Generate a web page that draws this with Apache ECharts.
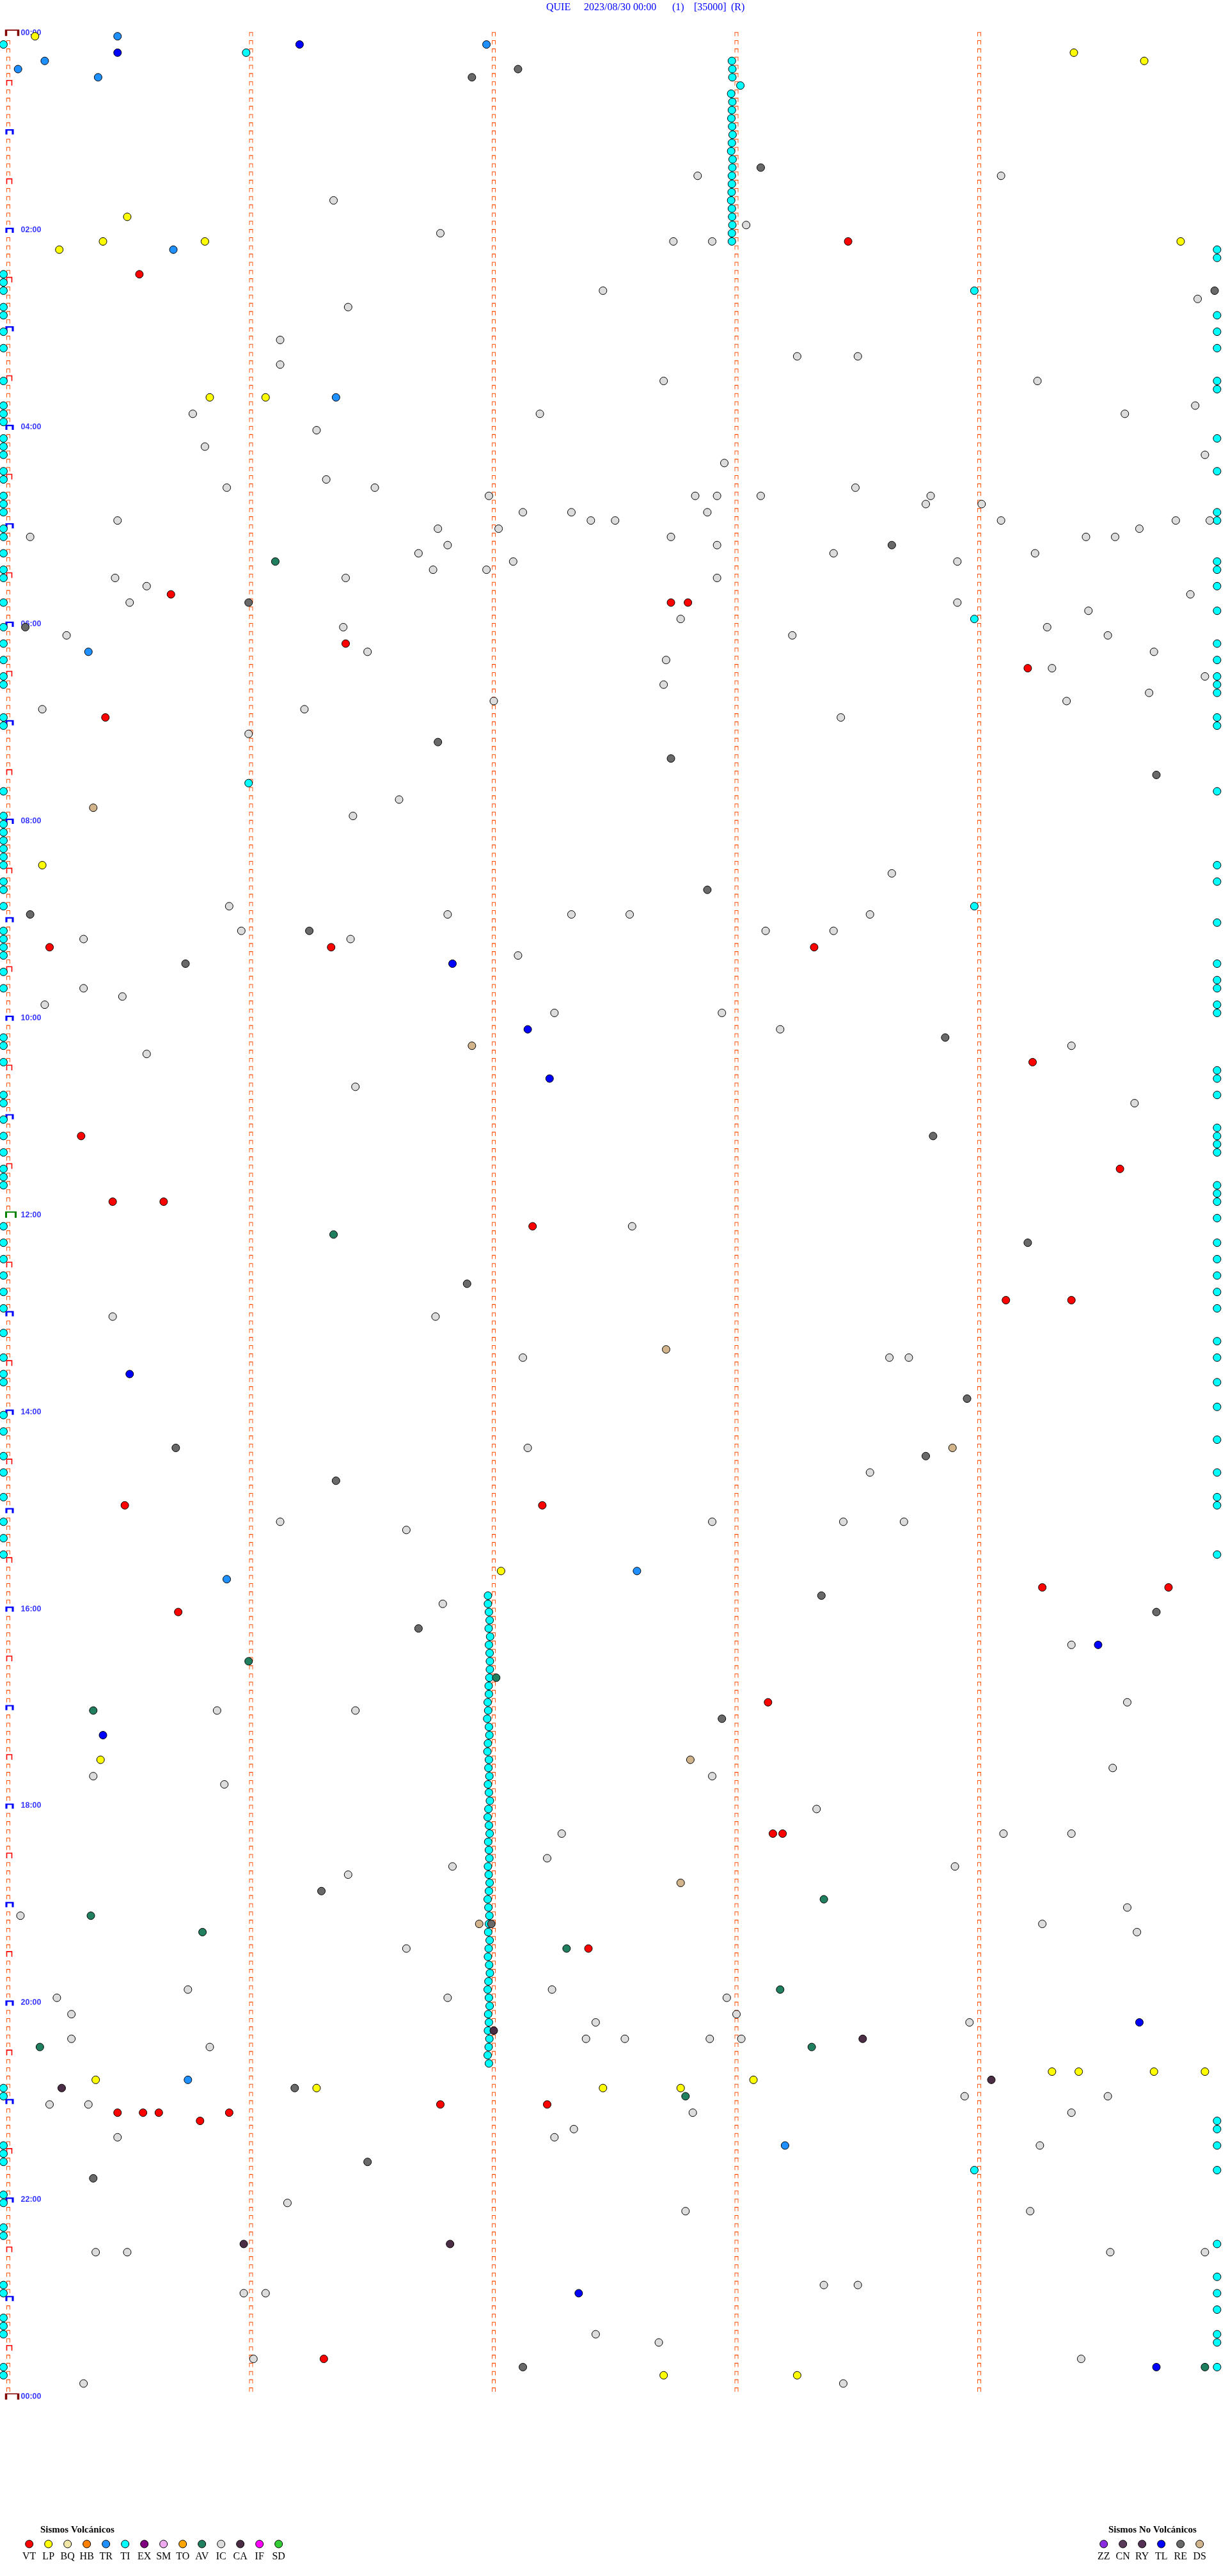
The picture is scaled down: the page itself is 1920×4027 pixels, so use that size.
<!DOCTYPE html>
<html><head><meta charset="utf-8">
<script src="https://cdn.jsdelivr.net/npm/echarts@6/dist/echarts.min.js"></script>
<style>html,body{margin:0;padding:0;background:#fff}#c{width:1920px;height:4027px}</style>
</head><body><div id="c"></div>
<script>
// Each event: [row = 5-minute window index since 00:00, offset within the window in minutes]
const VT = [[25,3.46],[29,0.54],[68,0.67],[69,2.73],[69,2.80],[74,1.39],[77,4.20],[83,0.40],[111,0.17],[111,1.33],[111,3.32],[125,4.22],[134,0.30],[138,4.58],[142,0.43],[142,0.64],[145,2.16],[154,4.11],[154,4.38],[179,0.48],[179,2.20],[189,4.26],[189,4.78],[192,0.70],[203,3.13],[219,3.15],[219,3.19],[233,2.39],[252,1.78],[252,2.22],[253,0.45],[253,0.555],[253,0.62],[253,0.91],[254,0.79],[283,1.30]];
const LP = [[0,0.11],[2,4.39],[3,4.68],[22,0.49],[25,0.39],[25,0.81],[26,0.21],[25,4.83],[44,0.83],[44,1.06],[101,0.14],[187,2.03],[210,0.38],[248,4.30],[248,4.41],[248,4.72],[248,4.93],[249,0.36],[249,3.07],[250,1.27],[250,2.45],[250,2.77],[285,2.70],[285,3.25]];
const TR = [[0,0.45],[1,1.97],[3,0.15],[4,0.04],[5,0.37],[26,0.68],[44,1.35],[75,0.33],[187,2.59],[188,0.90],[249,0.74],[257,3.20]];
const TI = [
 [1,-0.02],[2,0.98],
 [3,2.981],[4,2.983],[5,2.983],[6,3.016],[7,2.978],[8,2.983],[9,2.981],[10,2.979],[11,2.982],[12,2.984],[13,2.981],[14,2.978],[15,2.984],[16,2.983],[17,2.981],[18,2.981],[19,2.98],[20,2.978],[21,2.981],[22,2.982],[23,2.983],[24,2.981],[25,2.981],
 [31,3.98],[71,3.98],[91,0.99],[106,3.98],[260,3.98],
 [29,-0.02],[30,-0.02],[31,-0.02],[33,-0.02],[34,-0.02],[36,-0.02],[38,-0.02],[42,-0.02],[45,-0.02],[46,-0.02],[47,-0.02],[49,-0.02],[50,-0.02],[51,-0.02],[53,-0.02],[54,-0.02],[56,-0.02],[57,-0.02],[58,-0.02],[60,-0.02],[61,-0.02],[63,-0.02],[65,-0.02],[66,-0.02],[69,-0.02],[72,-0.02],[74,-0.02],[76,-0.02],[78,-0.02],[79,-0.02],[83,-0.02],[84,-0.02],[92,-0.02],[95,-0.02],[96,-0.02],[97,-0.02],[98,-0.02],[99,-0.02],[100,-0.02],[101,-0.02],[103,-0.02],[104,-0.02],[106,-0.02],[109,-0.02],[110,-0.02],[111,-0.02],[112,-0.02],[114,-0.02],[116,-0.02],[122,-0.02],[123,-0.02],[125,-0.02],[129,-0.02],[130,-0.02],[132,-0.02],[134,-0.02],[136,-0.02],[138,-0.02],[139,-0.02],[140,-0.02],[145,-0.02],[147,-0.02],[149,-0.02],[151,-0.02],[153,-0.02],[155,-0.02],[158,-0.02],[161,-0.02],[163,-0.02],[164,-0.02],[168,-0.02],[170,-0.02],[173,-0.02],[175,-0.02],[178,-0.02],[181,-0.02],[183,-0.02],[185,-0.02],[250,-0.02],[251,-0.02],[257,-0.02],[258,-0.02],[259,-0.02],[263,-0.02],[264,-0.02],[267,-0.02],[268,-0.02],[274,-0.02],[275,-0.02],[278,-0.02],[279,-0.02],[280,-0.02],[284,-0.02],[285,-0.02],
 [26,4.98],[27,4.98],[34,4.98],[36,4.98],[38,4.98],[42,4.98],[43,4.98],[49,4.98],[53,4.98],[58,4.98],[59,4.98],[64,4.98],[65,4.98],[67,4.98],[70,4.98],[74,4.98],[76,4.98],[78,4.98],[79,4.98],[80,4.98],[83,4.98],[84,4.98],[92,4.98],[101,4.98],[103,4.98],[108,4.98],[113,4.98],[115,4.98],[116,4.98],[118,4.98],[119,4.98],[126,4.98],[127,4.98],[129,4.98],[133,4.98],[134,4.98],[135,4.98],[136,4.98],[140,4.98],[141,4.98],[142,4.98],[144,4.98],[147,4.98],[149,4.98],[151,4.98],[153,4.98],[155,4.98],[159,4.98],[161,4.98],[164,4.98],[167,4.98],[171,4.98],[175,4.98],[178,4.98],[179,4.98],[185,4.98],[254,4.98],[255,4.98],[257,4.98],[260,4.98],[269,4.98],[273,4.98],[275,4.98],[277,4.98],[280,4.98],[281,4.98],[284,4.98],
 [190,1.976],[191,1.976],[192,1.98],[193,1.983],[194,1.979],[195,1.985],[196,1.98],[197,1.983],[198,1.984],[199,1.984],[200,1.982],[201,1.979],[202,1.98],[203,1.975],[204,1.977],[205,1.973],[206,1.98],[207,1.982],[208,1.976],[209,1.974],[210,1.98],[211,1.978],[212,1.982],[213,1.976],[214,1.98],[215,1.984],[216,1.978],[217,1.975],[218,1.98],[219,1.983],[220,1.977],[221,1.98],[222,1.982],[223,1.976],[224,1.979],[225,1.983],[226,1.98],[227,1.975],[228,1.978],[229,1.982],[230,1.98],[231,1.977],[232,1.983],[233,1.979],[234,1.976],[235,1.981],[236,1.984],[237,1.978],[238,1.975],[239,1.98],[240,1.983],[241,1.977],[242,1.98],[243,1.976],[244,1.982],[245,1.979],[246,1.975],[247,1.98]
];
const AV = [[64,1.10],[146,1.34],[198,0.99],[200,2.01],[204,0.35],[227,3.36],[229,0.34],[231,0.80],[233,2.30],[238,3.18],[245,0.13],[245,3.31],[251,2.79],[284,4.93]];
const IC = [[17,2.84],[17,4.09],[20,1.34],[23,3.04],[24,1.78],[25,2.90],[25,2.74],[31,2.45],[32,4.90],[33,1.40],[37,1.12],[39,3.25],[39,3.50],[40,1.12],[42,2.70],[42,4.24],[45,4.89],[46,0.76],[46,2.19],[46,4.60],[48,1.27],[50,0.81],[51,4.93],[52,2.95],[54,1.31],[55,1.51],[55,0.90],
 [56,1.98],[60,2.02],[58,2.12],[58,2.32],[59,2.40],[59,2.50],[61,2.73],[56,2.83],[58,2.88],[56,2.92],[62,2.92],[56,3.10],[55,3.49],[56,3.80],[57,3.78],[57,4.01],[59,4.09],[61,4.44],[61,4.56],[60,4.66],[59,4.81],[59,4.95],
 [59,0.45],[61,0.09],[60,1.77],[62,1.81],[63,1.69],[65,1.75],[65,1.97],[64,2.08],[63,3.40],[63,4.23],[64,3.91],
 [66,0.44],[67,0.57],[69,0.50],[66,1.39],[66,2.92],[69,3.91],[68,4.87],[70,4.45],
 [71,2.77],[73,0.24],[72,1.38],[75,1.48],[73,3.23],[72,4.28],[73,4.53],[75,4.72],[76,2.71],[77,4.30],[79,2.70],[78,4.93],[81,4.36],[80,4.70],
 [82,0.14],[82,1.22],[81,2.00],[83,3.43],[85,0.99],[93,1.61],[95,1.42],[102,3.64],[106,0.91],[107,1.81],[107,2.32],[107,2.56],[107,3.55],[109,0.96],[109,3.12],[109,3.40],[110,0.31],[110,1.41],[112,2.10],[116,0.31],[117,0.47],[118,0.15],[119,2.94],[119,2.25],[121,3.18],[123,4.38],[124,0.57],[128,1.43],[130,4.64],[145,2.57],[156,0.43],[156,1.76],[161,2.12],[161,3.63],[161,3.71],[172,2.14],[175,3.55],[181,1.12],[181,2.90],[181,3.44],[181,3.69],[182,1.64],[191,1.79],[196,4.38],[203,4.61],[204,0.86],[204,1.43],[211,4.55],[212,0.35],[212,2.90],[213,0.89],[216,3.33],[219,2.28],[219,4.10],[219,4.38],[222,2.22],[223,1.83],[223,3.90],[224,1.40],[228,4.61],[229,0.05],[230,4.26],[231,4.65],[233,1.64],[238,0.74],[239,0.20],[239,1.81],[238,2.24],[239,2.96],[241,0.26],[241,3.00],[242,2.42],[242,3.96],[244,0.26],[244,2.38],[244,2.54],[244,2.89],[244,3.02],[245,0.83],[251,3.94],[251,4.53],[252,0.17],[252,0.33],[253,2.82],[253,4.38],[255,2.33],[256,0.45],[256,2.25],[257,4.25],[264,1.15],[265,2.79],[265,4.21],[270,0.36],[270,0.49],[270,4.54],[270,4.93],[274,3.36],[274,3.50],[275,0.97],[275,1.06],[280,2.42],[281,2.68],[283,1.01],[283,4.42],[286,0.31],[286,3.44]];
const CA = [[243,2.0],[244,3.52],[249,4.05],[250,0.22],[269,0.97],[269,1.82]];
const TL = [[1,1.20],[2,0.45],[113,1.83],[121,2.14],[127,2.23],[163,0.50],[196,4.49],[207,0.39],[242,4.66],[275,2.35],[284,4.73]];
const RE = [[4,2.10],[5,1.91],[16,3.10],[31,4.97],[62,3.64],[69,0.99],[72,0.07],[86,1.77],[88,2.73],[90,4.73],[104,2.88],[107,0.09],[109,1.24],[113,0.73],[122,3.86],[134,3.81],[147,4.20],[152,1.89],[166,3.95],[172,0.69],[173,3.78],[176,1.35],[190,3.35],[192,4.73],[194,1.69],[205,2.94],[226,1.29],[230,1.99],[250,1.18],[259,1.48],[261,0.35],[284,2.12]];
const DS = [[94,0.35],[123,1.91],[160,2.71],[172,3.89],[210,2.81],[225,2.77],[230,1.94]];

const volcanicCodes  = ['VT','LP','BQ','HB','TR','TI','EX','SM','TO','AV','IC','CA','IF','SD'];
const volcanicColors = ['#ff0000','#ffff00','#f0e6a8','#ff8000','#1e90ff','#00ffff','#800080','#eeaaee','#ffa500','#1f7f5f','#dcdcdc','#4b2d45','#ff00ff','#32cd32'];
const nonVolcanicCodes  = ['ZZ','CN','RY','TL','RE','DS'];
const nonVolcanicColors = ['#8a2be2','#5a3a5a','#553055','#0000ff','#696969','#d2b48c'];
const eventsByCode = {VT, LP, TR, TI, AV, IC, CA, TL, RE, DS};

const hourLabels = ['00:00','02:00','04:00','06:00','08:00','10:00','12:00','14:00','16:00','18:00','20:00','22:00','00:00'];
const hourLabelRows = [0,24,48,72,96,120,144,168,192,216,240,264,288];
const titleParts = ['QUIE','2023/08/30 00:00','(1)','[35000]','(R)'];
const ROWS = 288;
const minuteLines = [0,1,2,3,4];

// ---- layout ----
const X0 = 13, PXMIN = 379.5, Y0 = 56.7, PXROW = 12.83, XMIN = -0.03;
const chart = echarts.init(document.getElementById('c'), null, {renderer:'canvas', width:1920, height:4027});

const PATH = 'path://M0,10L0,0L10,0L10,10';
const small = [], half = [], hour = [], ends = [], noon = [];
for (const m of minuteLines) {
  for (let r = 0; r < ROWS; r++) {
    if (m === 0) {
      if (r === 0) ends.push([0, r]);
      else if (r === 144) noon.push([0, r]);
      else if (r % 12 === 0) hour.push([0, r]);
      else if (r % 6 === 0) half.push([0, r]);
      else small.push([0, r]);
    } else small.push([m, r]);
  }
}
ends.push([0, ROWS]);

function marks(data, size, offset, color, width) {
  return {type:'scatter', data, symbol:PATH, symbolSize:size, symbolOffset:offset, silent:true, clip:false, animation:false, z:1,
    itemStyle:{color:'rgba(0,0,0,0)', borderColor:color, borderWidth:width, opacity:1}};
}

const series = [
  marks(small, [5,6], [0,-3], '#ff4a00', 1),
  marks(half, [8,8], [1.5,-4], '#ff0000', 1.6),
  marks(hour, [10,7], [2,-4], '#0000ff', 2.6),
  marks(ends, [19,9], [6,-5], '#800000', 2.4),
  marks(noon, [15,9], [4,-5], '#008000', 2.4),
  {type:'scatter', data: hourLabelRows.map((r,i)=>({value:[0,r], name:hourLabels[i]})), symbolSize:1, silent:true, animation:false, z:2,
   itemStyle:{color:'rgba(0,0,0,0)'},
   label:{show:true, position:'right', distance:19, offset:[0,-5], formatter:p=>p.name, color:'#0000ff', fontWeight:'bold', fontSize:12.5, fontFamily:'Liberation Sans, Arial, sans-serif'}}
];
const allCodes = volcanicCodes.concat(nonVolcanicCodes);
const allColors = volcanicColors.concat(nonVolcanicColors);
allCodes.forEach((code, i) => {
  const d = eventsByCode[code];
  if (!d || !d.length) return;
  series.push({type:'scatter', name:code, data:d.map(e=>[e[1], e[0]]), symbol:'circle', symbolSize:12, clip:false, animation:false, z:3,
    itemStyle:{color:allColors[i], borderColor:'#000', borderWidth:1, opacity:1}});
});

// legend & title graphics
const graphic = [];
const titleX = [854, 913, 1051, 1085, 1143];
titleParts.forEach((t,i)=>graphic.push({type:'text', left:titleX[i], top:4, style:{text:t, fill:'#0000ff', font:'16px "Liberation Serif", "Times New Roman", serif'}}));
function legendBlock(title, titleLeft, codes, colors, x0) {
  graphic.push({type:'text', left:titleLeft, top:3948, style:{text:title, fill:'#000', font:'bold 15px "Liberation Serif", "Times New Roman", serif'}});
  codes.forEach((c,i)=>{
    const cx = x0 + 30*i;
    graphic.push({type:'circle', shape:{cx, cy:3977, r:6}, style:{fill:colors[i], stroke:'#000', lineWidth:1}});
    graphic.push({type:'text', x:cx, y:3997, style:{text:c, fill:'#000', font:'16px "Liberation Serif", "Times New Roman", serif', align:'center', verticalAlign:'middle'}});
  });
}
legendBlock('Sismos Volcánicos', 63, volcanicCodes, volcanicColors, 45.7);
legendBlock('Sismos No Volcánicos', 1733, nonVolcanicCodes, nonVolcanicColors, 1725.7);

chart.setOption({
  animation:false,
  backgroundColor:'#ffffff',
  grid:{left: X0 + XMIN*PXMIN, top: Y0, width: (5 - XMIN)*PXMIN, height: ROWS*PXROW},
  xAxis:{type:'value', min:XMIN, max:5, show:false},
  yAxis:{type:'value', min:0, max:ROWS, inverse:true, show:false},
  series,
  graphic
});
</script></body></html>
